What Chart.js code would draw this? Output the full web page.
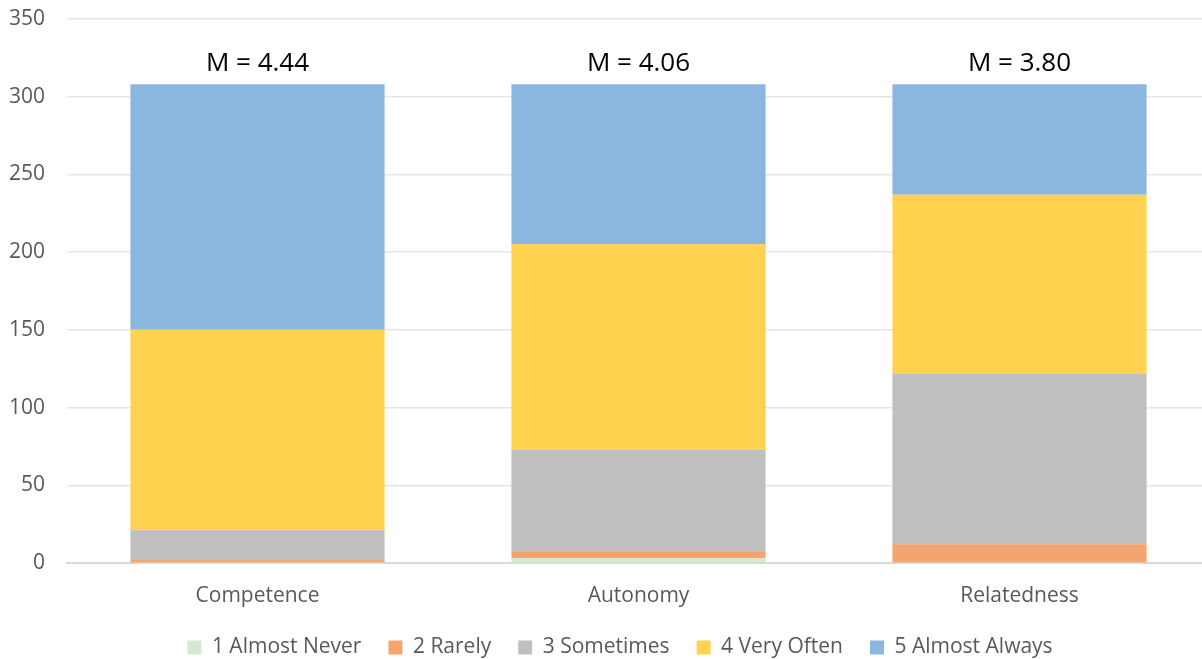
<!DOCTYPE html>
<html>
<head>
<meta charset="utf-8">
<script src="https://cdn.jsdelivr.net/npm/chart.js@4"></script>
<style>
  html, body { margin: 0; padding: 0; background: #ffffff; overflow: hidden; }
  #wrap { width: 1202px; height: 659px; overflow: hidden; }
</style>
</head>
<body>
<div id="wrap"><canvas id="c" width="1210" height="659"></canvas></div>
<script>
const categories = ['Competence', 'Autonomy', 'Relatedness'];
const almostNever = [0, 3, 0];
const rarely = [2, 4, 12];
const sometimes = [19, 66, 110];
const veryOften = [129, 132, 115];
const almostAlways = [158, 103, 71];
const meanLabels = ['M = 4.44', 'M = 4.06', 'M = 3.80'];
const seriesNames = ['1 Almost Never', '2 Rarely', '3 Sometimes', '4 Very Often', '5 Almost Always'];
const yTicks = [0, 50, 100, 150, 200, 250, 300, 350];

const colors = ['#D5E8D0', '#F4A46E', '#BFBFBF', '#FFD24F', '#8AB6E0'];
const seriesData = [almostNever, rarely, sometimes, veryOften, almostAlways];

const meanPlugin = {
  id: 'meanLabels',
  afterLayout(chart) {
    if (chart.legend) { chart.legend.left += 11; chart.legend.right += 11; }
  },
  afterDatasetsDraw(chart) {
    const ctx = chart.ctx;
    const xs = chart.scales.x, ys = chart.scales.y;
    ctx.save();
    ctx.font = '26px "Open Sans"';
    ctx.fillStyle = '#000000';
    ctx.textAlign = 'center';
    ctx.textBaseline = 'bottom';
    categories.forEach((c, i) => {
      let total = 0;
      seriesData.forEach(s => total += s[i]);
      ctx.fillText(meanLabels[i], xs.getPixelForValue(i), ys.getPixelForValue(total) - 8);
    });
    ctx.restore();
  }
};

new Chart(document.getElementById('c'), {
  type: 'bar',
  data: {
    labels: categories,
    datasets: seriesNames.map((n, k) => ({
      label: n,
      data: seriesData[k],
      backgroundColor: colors[k],
      borderWidth: 0,
      categoryPercentage: 0.667,
      barPercentage: 1.0
    }))
  },
  options: {
    responsive: false,
    animation: false,
    layout: { padding: { left: 8, right: 0, top: 0, bottom: -9 } },
    plugins: {
      legend: {
        position: 'bottom',
        labels: {
          font: { family: '"Open Sans"', size: 21 },
          color: '#595959',
          boxWidth: 14,
          boxHeight: 14,
          padding: 27
        }
      },
      tooltip: { enabled: false }
    },
    scales: {
      x: {
        stacked: true,
        grid: { display: false },
        border: { color: '#D9D9D9', width: 2 },
        ticks: { font: { family: '"Open Sans"', size: 21 }, color: '#595959', padding: 12, maxRotation: 0, autoSkip: false },
        afterFit(axis) { axis.height = 47; }
      },
      y: {
        stacked: true,
        min: 0,
        max: 350,
        afterBuildTicks(axis) { axis.ticks = yTicks.map(v => ({ value: v })); },
        grid: { color: '#E6E6E6', lineWidth: 1.5, drawTicks: false },
        border: { display: false },
        ticks: { font: { family: '"Open Sans"', size: 21 }, color: '#595959', padding: 22 },
        afterFit(axis) { axis.width = 59; axis.paddingTop = 19; }
      }
    }
  },
  plugins: [meanPlugin]
});
</script>
</body>
</html>
